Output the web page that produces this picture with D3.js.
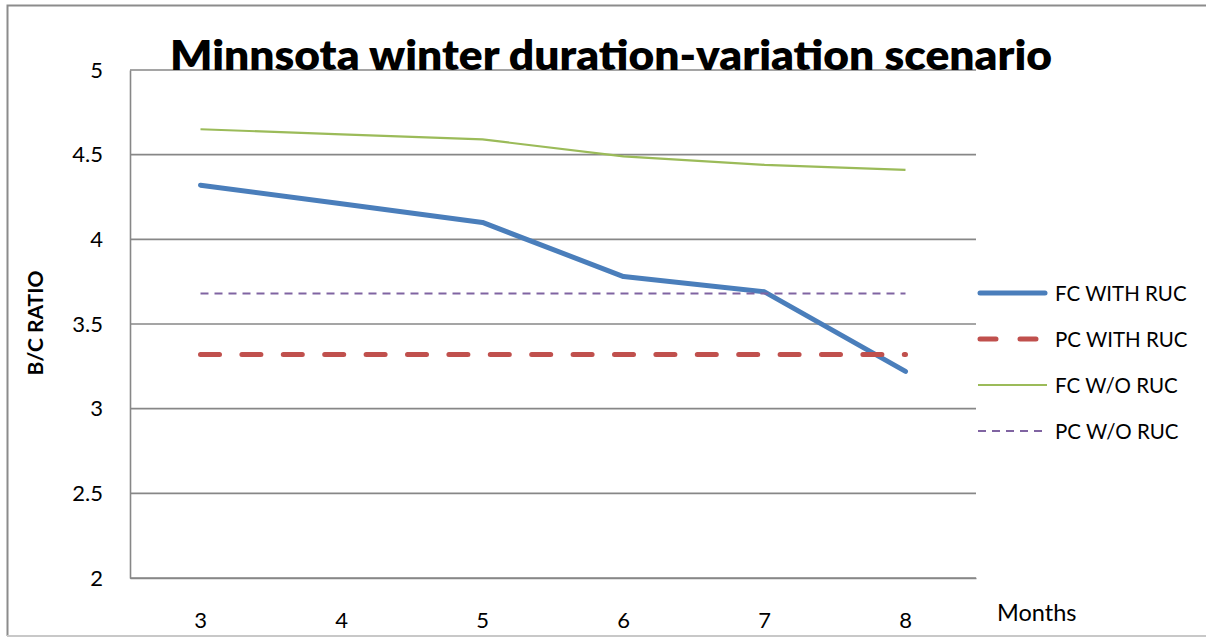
<!DOCTYPE html>
<html>
<head>
<meta charset="utf-8">
<script src="https://cdn.jsdelivr.net/npm/d3@7"></script>
<style>
  html, body { margin: 0; padding: 0; background: #fff; }
  svg { display: block; font-family: Lato, "Open Sans", sans-serif; }
</style>
</head>
<body>
<svg id="chart" width="1206" height="637"></svg>
<script>
// Months of winter duration on the x axis
const months = [3, 4, 5, 6, 7, 8];

// Benefit/cost ratios per scenario
const fcWithRuc = [4.32, 4.21, 4.10, 3.78, 3.69, 3.22];
const pcWithRuc = [3.32, 3.32, 3.32, 3.32, 3.32, 3.32];
const fcWithoutRuc = [4.65, 4.62, 4.59, 4.49, 4.44, 4.41];
const pcWithoutRuc = [3.68, 3.68, 3.68, 3.68, 3.68, 3.68];

const yTicks = [2, 2.5, 3, 3.5, 4, 4.5, 5];
const seriesNames = ["FC WITH RUC", "PC WITH RUC", "FC W/O RUC", "PC W/O RUC"];

const series = [
  { name: seriesNames[0], values: fcWithRuc, color: "#4a7ebb", width: 5, dash: null, legendDash: null, cap: "round" },
  { name: seriesNames[1], values: pcWithRuc, color: "#c0504d", width: 5, dash: "19,22.4", legendDash: "16,24", cap: "round" },
  { name: seriesNames[2], values: fcWithoutRuc, color: "#9bbb59", width: 2.2, dash: null, legendDash: null, cap: "butt" },
  { name: seriesNames[3], values: pcWithoutRuc, color: "#8064a2", width: 2.2, dash: "8,6", legendDash: "8,6", cap: "butt" }
];

const svg = d3.select("#chart");

// outer chart frame
svg.append("path")
  .attr("d", "M1206,5.5 H7.5 V636")
  .attr("fill", "none").attr("stroke", "#8c8c8c").attr("stroke-width", 2);
svg.append("line")
  .attr("x1", 7).attr("x2", 1206).attr("y1", 636).attr("y2", 636)
  .attr("stroke", "#c8c8c8").attr("stroke-width", 2);

const plot = { left: 130, right: 976, top: 70, bottom: 578 };

const x = d3.scaleBand().domain(months).range([plot.left, plot.right]);
const y = d3.scaleLinear().domain([2, 5]).range([plot.bottom, plot.top]);
const xc = m => x(m) + x.bandwidth() / 2;

// horizontal gridlines
svg.append("g")
  .selectAll("line")
  .data(yTicks)
  .join("line")
  .attr("x1", plot.left).attr("x2", plot.right)
  .attr("y1", d => y(d)).attr("y2", d => y(d))
  .attr("stroke", "#878787").attr("stroke-width", 1.6);

// y axis
const yAxis = svg.append("g")
  .attr("transform", `translate(${plot.left},0)`)
  .call(d3.axisLeft(y).tickValues(yTicks).tickSize(0).tickPadding(27).tickFormat(d3.format("")));
yAxis.select(".domain").attr("stroke", "#878787").attr("stroke-width", 1.6);
yAxis.selectAll("text").attr("font-size", 22).attr("fill", "#000")
  .attr("font-family", "Lato, 'Open Sans', sans-serif");

// x axis
const xAxis = svg.append("g")
  .attr("transform", `translate(0,${plot.bottom})`)
  .call(d3.axisBottom(x).tickSize(0));
xAxis.select(".domain").attr("stroke", "#878787").attr("stroke-width", 1.6);
xAxis.selectAll("text").attr("font-size", 22).attr("fill", "#000")
  .attr("y", 50).attr("dy", null)
  .attr("font-family", "Lato, 'Open Sans', sans-serif");

// series lines
const line = d3.line().x((d, i) => xc(months[i])).y(d => y(d));
svg.append("g")
  .selectAll("path")
  .data(series)
  .join("path")
  .attr("d", d => line(d.values))
  .attr("fill", "none")
  .attr("stroke", d => d.color)
  .attr("stroke-width", d => d.width)
  .attr("stroke-dasharray", d => d.dash)
  .attr("stroke-linecap", d => d.cap)
  .attr("stroke-linejoin", "round");

// title
svg.append("text")
  .attr("x", 611).attr("y", 70)
  .attr("text-anchor", "middle")
  .attr("font-size", 42).attr("font-weight", 800)
  .attr("textLength", 882).attr("lengthAdjust", "spacingAndGlyphs")
  .text("Minnsota winter duration-variation scenario");

// axis titles
svg.append("text")
  .attr("transform", "translate(43,323) rotate(-90)")
  .attr("text-anchor", "middle")
  .attr("font-size", 21).attr("font-weight", "bold")
  .text("B/C RATIO");

svg.append("text")
  .attr("x", 997).attr("y", 621)
  .attr("font-size", 23.5)
  .text("Months");

// legend
const legendY = [293, 339, 385, 431];
const legend = svg.append("g")
  .selectAll("g")
  .data(series)
  .join("g")
  .attr("transform", (d, i) => `translate(0,${legendY[i]})`);
legend.append("line")
  .attr("x1", d => d.cap === "round" ? 980 : 978)
  .attr("x2", d => d.cap === "round" ? 1045 : 1047)
  .attr("stroke", d => d.color)
  .attr("stroke-width", d => d.width)
  .attr("stroke-dasharray", d => d.legendDash)
  .attr("stroke-linecap", d => d.cap);
legend.append("text")
  .attr("x", 1055).attr("y", 8)
  .attr("font-size", 20.5)
  .text(d => d.name);
</script>
</body>
</html>
